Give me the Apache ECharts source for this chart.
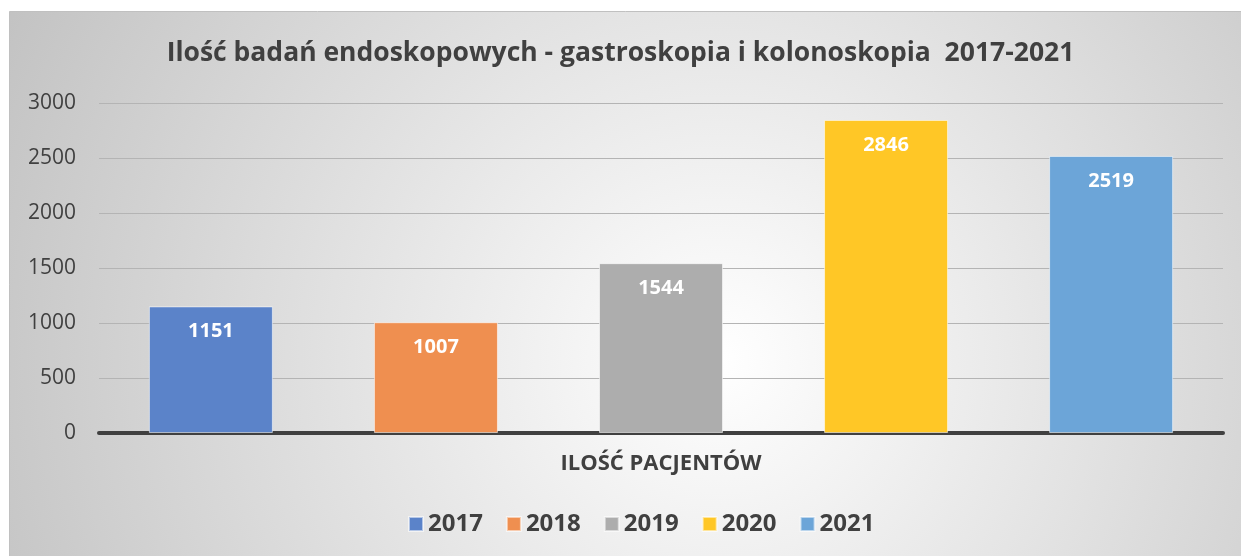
<!DOCTYPE html>
<html>
<head>
<meta charset="utf-8">
<title>Ilość badań endoskopowych</title>
<script src="https://cdn.jsdelivr.net/npm/echarts@6/dist/echarts.min.js"></script>
<style>
  html, body { margin: 0; padding: 0; background: #ffffff; }
  #chart { width: 1241px; height: 556px; }
</style>
</head>
<body>
<div id="chart"></div>
<script>
// dane z wykresu
const categories = ['ILOŚĆ PACJENTÓW']
const years = ['2017', '2018', '2019', '2020', '2021']
const values = [1151, 1007, 1544, 2846, 2519]
const yearColors = ['#5b83c9', '#ef8f50', '#adadad', '#ffc726', '#6ca5d8']
const yTicks = [0, 500, 1000, 1500, 2000, 2500, 3000]

const textColor = '#404040'
const fontFamily = '"Open Sans", "Noto Sans", sans-serif'

const chart = echarts.init(document.getElementById('chart'))

const seriesList = years.map(function(year, i) {
  return {
    name: year,
    type: 'bar',
    barWidth: 124,
    barGap: '81.5%',
    itemStyle: {
      color: yearColors[i],
      borderColor: 'rgba(255,255,255,0.55)',
      borderWidth: 1
    },
    label: {
      show: true,
      position: 'insideTop',
      distance: 15,
      color: '#ffffff',
      fontSize: 20,
      fontWeight: 'bold',
      fontFamily: fontFamily
    },
    data: [values[i]]
  }
})

chart.setOption({
  backgroundColor: '#ffffff',
  animation: false,
  graphic: [{
    type: 'rect',
    z: -10,
    silent: true,
    shape: { x: 9.5, y: 11.5, width: 1240, height: 550 },
    style: {
      fill: {
        type: 'radial',
        x: 720,
        y: 360,
        r: 800,
        global: true,
        colorStops: [
          { offset: 0, color: '#ffffff' },
          { offset: 1, color: '#c2c2c2' }
        ]
      },
      stroke: '#c0c0c0',
      lineWidth: 1
    }
  }],
  title: {
    text: 'Ilość badań endoskopowych - gastroskopia i kolonoskopia  2017-2021',
    left: 'center',
    top: 35,
    textStyle: {
      color: textColor,
      fontSize: 26.5,
      fontWeight: 'bold',
      fontFamily: fontFamily
    }
  },
  legend: {
    bottom: 15,
    left: 403,
    itemWidth: 14,
    itemHeight: 14,
    itemGap: 23,
    icon: 'rect',
    data: years,
    textStyle: {
      color: textColor,
      fontSize: 24,
      fontWeight: 'bold',
      fontFamily: fontFamily
    }
  },
  grid: {
    left: 99,
    right: 18,
    top: 103,
    bottom: 123
  },
  xAxis: {
    type: 'category',
    data: categories,
    axisTick: { show: false },
    axisLine: {
      lineStyle: { color: textColor, width: 4 }
    },
    axisLabel: {
      margin: 20,
      color: textColor,
      fontSize: 22,
      fontWeight: 'bold',
      fontFamily: fontFamily
    }
  },
  yAxis: {
    type: 'value',
    min: yTicks[0],
    max: yTicks[yTicks.length - 1],
    interval: 500,
    axisLine: { show: false },
    axisTick: { show: false },
    splitLine: {
      lineStyle: { color: '#b4b4b4', width: 1 }
    },
    axisLabel: {
      margin: 23,
      color: textColor,
      fontSize: 21,
      fontFamily: fontFamily,
      formatter: function(v) { return String(v) }
    }
  },
  series: seriesList
})
</script>
</body>
</html>
